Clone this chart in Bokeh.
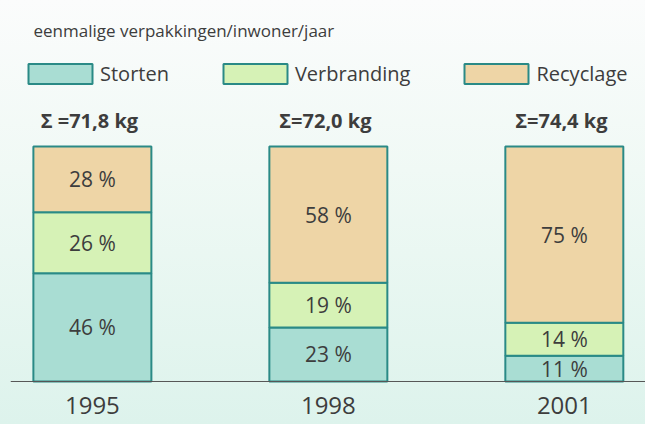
from bokeh.plotting import figure
from bokeh.models import Range1d, ColumnDataSource, Legend, LegendItem, Label, Span
from bokeh.core.properties import value
from bokeh.embed import file_html
from bokeh.resources import INLINE

# ---- data ----
years = ["1995", "1998", "2001"]
sum_labels = ["\u03a3 =71,8 kg", "\u03a3=72,0 kg", "\u03a3=74,4 kg"]
storten = [46, 23, 11]
verbranding = [26, 19, 14]
recyclage = [28, 58, 75]
series_names = ["Storten", "Verbranding", "Recyclage"]
colors = ["#a9ddd3", "#d6f2b6", "#eed5a6"]
title_text = "eenmalige verpakkingen/inwoner/jaar"

FONT = "Open Sans"
TXT = "#3d3d3d"
EDGE = "#2a8a86"

x = list(range(len(years)))
src = ColumnDataSource(dict(x=x, Storten=storten, Verbranding=verbranding, Recyclage=recyclage))

p = figure(width=645, height=424, output_backend="svg", toolbar_location=None,
           x_range=Range1d(-0.347, 2.344), y_range=Range1d(-18.3, 162.1),
           min_border_left=10, min_border_right=0, min_border_top=0, min_border_bottom=0)
p.background_fill_alpha = 0
p.border_fill_alpha = 0
p.outline_line_color = None
p.styles = {"background": "linear-gradient(to bottom, #fbfcfc 0%, #f0f9f5 40%, #ddf3ec 100%)"}
p.grid.visible = False
p.axis.visible = False

renderers = p.vbar_stack(series_names, x="x", width=0.5, source=src, fill_color=colors,
                         line_color=EDGE, line_width=2)

# baseline
p.add_layout(Span(location=0, dimension="width", line_color="#555555", line_width=1))

# percent labels
lx, ly, lt = [], [], []
for i in x:
    base = 0
    for vals in (storten, verbranding, recyclage):
        v = vals[i]
        lx.append(i)
        ly.append(base + v / 2)
        lt.append(f"{v} %")
        base += v
p.text(x=lx, y=ly, text=lt, text_font=value(FONT), text_font_size="21px",
       text_color=TXT, text_align="center", text_baseline="middle")

# sum labels
p.text(x=x, y=[100] * len(x), text=sum_labels, text_font=value(FONT), text_font_size="20px",
       text_font_style="bold", text_color=TXT, text_align="center", text_baseline="middle",
       x_offset=-3, y_offset=-26)

# year labels
p.text(x=x, y=[0] * len(x), text=years, text_font=value(FONT), text_font_size="24px",
       text_color=TXT, text_align="center", text_baseline="middle", y_offset=24)

# legend
legend = Legend(items=[LegendItem(label=n, renderers=[r]) for n, r in zip(series_names, renderers)],
                orientation="horizontal", location=(10, 337), glyph_width=80, glyph_height=25,
                label_height=25, label_standoff=0, spacing=46, padding=0, margin=0,
                border_line_alpha=0, background_fill_alpha=0,
                label_text_font=FONT, label_text_font_size="20px", label_text_color=TXT)
p.add_layout(legend, "center")

# title text
p.add_layout(Label(x=-0.2495, y=149.4, text=title_text, text_font=FONT, text_font_size="17px",
                   text_color=TXT, text_baseline="middle"))

open("out.html", "w").write(file_html(p, INLINE))
